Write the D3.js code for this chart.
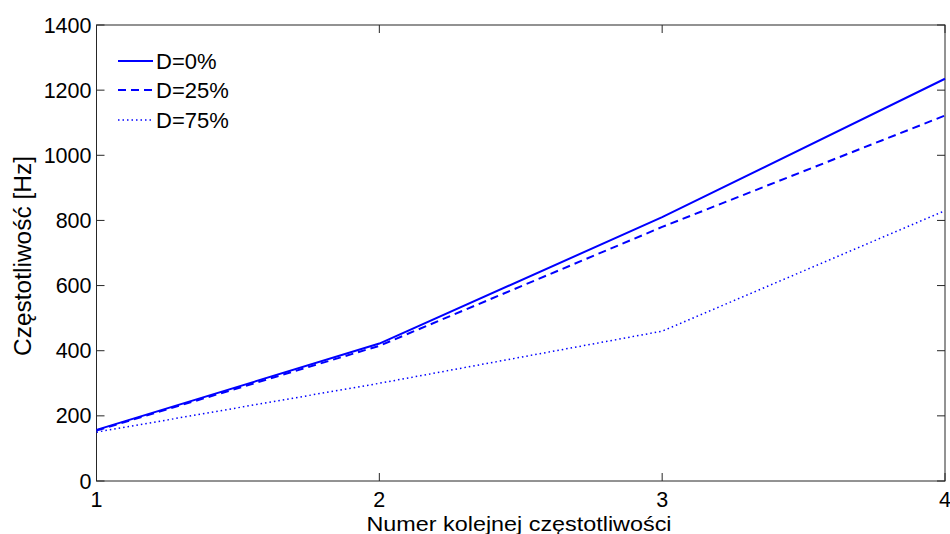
<!DOCTYPE html>
<html><head><meta charset="utf-8">
<script src="https://cdn.jsdelivr.net/npm/d3@7"></script>
<style>body{margin:0;background:#fff}svg{display:block}</style>
</head><body>
<script>
const categories = [1, 2, 3, 4];
const seriesNames = ["D=0%", "D=25%", "D=75%"];
const d0 = [157, 422, 810, 1235];
const d25 = [155, 415, 780, 1122];
const d75 = [150, 300, 460, 830];
const yTicks = [0, 200, 400, 600, 800, 1000, 1200, 1400];
const xTicks = [1, 2, 3, 4];

const W = 950, H = 534;
const m = {left: 96.5, right: 5, top: 25, bottom: 53};
const svg = d3.select("body").append("svg").attr("width", W).attr("height", H);
const x = d3.scaleLinear().domain([1, 4]).range([m.left, W - m.right]);
const y = d3.scaleLinear().domain([0, 1400]).range([H - m.bottom, m.top]);
const font = "Liberation Sans, Arial, sans-serif";
const axCol = "#262626";

svg.append("rect").attr("x", x(1)).attr("y", y(1400)).attr("width", x(4) - x(1)).attr("height", y(0) - y(1400))
  .attr("fill", "none").attr("stroke", axCol).attr("stroke-width", 1);

const tl = 8;
const g = svg.append("g");
yTicks.forEach(t => {
  g.append("line").attr("x1", x(1)).attr("x2", x(1) + tl).attr("y1", y(t)).attr("y2", y(t)).attr("stroke", axCol);
  g.append("line").attr("x1", x(4)).attr("x2", x(4) - tl).attr("y1", y(t)).attr("y2", y(t)).attr("stroke", axCol);
  g.append("text").attr("x", x(1) - 5).attr("y", y(t)).attr("dy", "0.35em").attr("text-anchor", "end")
    .attr("font-family", font).attr("font-size", 21.5).attr("fill", "#000").text(t);
});
xTicks.forEach(t => {
  g.append("line").attr("x1", x(t)).attr("x2", x(t)).attr("y1", y(0)).attr("y2", y(0) - tl).attr("stroke", axCol);
  g.append("line").attr("x1", x(t)).attr("x2", x(t)).attr("y1", y(1400)).attr("y2", y(1400) + tl).attr("stroke", axCol);
  g.append("text").attr("x", x(t)).attr("y", y(0) + 26).attr("text-anchor", "middle")
    .attr("font-family", font).attr("font-size", 21.5).attr("fill", "#000").text(t);
});

svg.append("text").attr("x", 519).attr("y", 531).attr("text-anchor", "middle")
  .attr("font-family", font).attr("font-size", 21)
  .attr("textLength", 305).attr("lengthAdjust", "spacingAndGlyphs")
  .text("Numer kolejnej częstotliwości");
svg.append("text").attr("transform", `translate(31,256) rotate(-90)`).attr("text-anchor", "middle")
  .attr("font-family", font).attr("font-size", 23)
  .attr("textLength", 200).attr("lengthAdjust", "spacingAndGlyphs")
  .text("Częstotliwość [Hz]");

const styles = [
  {data: d0, dash: null, w: 2},
  {data: d25, dash: "8,5", w: 2},
  {data: d75, dash: "1.5,3", w: 1.5}
];
const line = d3.line().x((d, i) => x(categories[i])).y(d => y(d));
styles.forEach(s => {
  svg.append("path").datum(s.data).attr("d", line).attr("fill", "none").attr("stroke", "#0000ff")
    .attr("stroke-width", s.w).attr("stroke-dasharray", s.dash);
});

const ly = [61, 90, 120];
seriesNames.forEach((n, i) => {
  svg.append("line").attr("x1", 118).attr("x2", 153).attr("y1", ly[i]).attr("y2", ly[i])
    .attr("stroke", "#0000ff").attr("stroke-width", styles[i].w).attr("stroke-dasharray", styles[i].dash);
  svg.append("text").attr("x", 156).attr("y", ly[i]).attr("dy", "0.35em")
    .attr("font-family", font).attr("font-size", 22).text(n);
});
</script>
</body></html>
